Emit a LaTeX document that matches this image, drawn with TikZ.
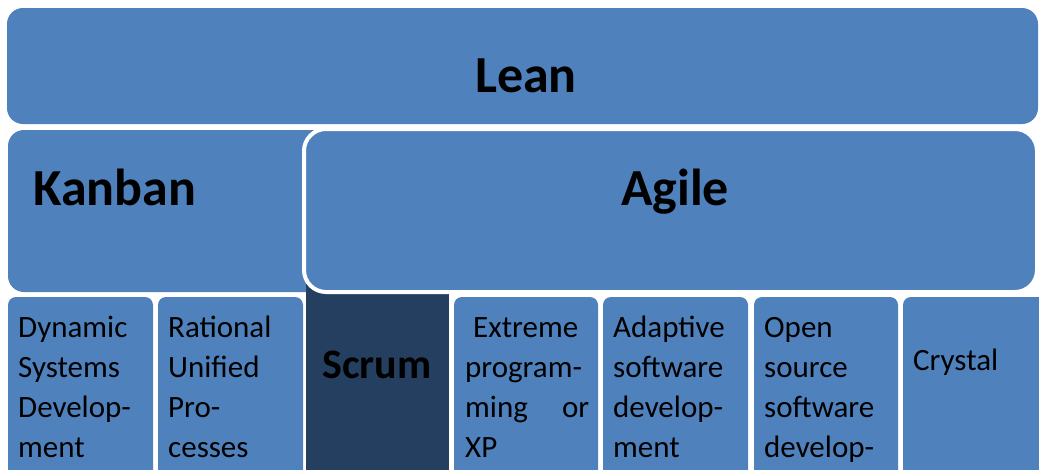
\documentclass[tikz,border=0pt]{standalone}
\usepackage{fontspec}
\setmainfont{Carlito}
\definecolor{boxblue}{HTML}{4F81BD}
\definecolor{boxdark}{HTML}{243F60}
\begin{document}
\begin{tikzpicture}[x=1pt,y=-1pt,
  bigbox/.style={fill=boxblue, rounded corners=16pt},
  smallbox/.style={fill=boxblue, rounded corners=8pt},
  title/.style={inner sep=0pt, font=\fontsize{52}{62}\selectfont\bfseries},
  body/.style={inner sep=0pt, anchor=base west, align=left, font=\fontsize{31}{40}\selectfont}]
\clip (0,0) rectangle (1039,469);
\fill[white] (0,0) rectangle (1039,469);
% top
\fill[bigbox] (7,8) rectangle (1038,124);
\fill[bigbox] (8,130) rectangle (330,292);
% scrum behind agile
\fill[boxdark] (306,270) rectangle (449,480);
% agile with white rim
\filldraw[fill=boxblue, draw=white, line width=4pt, rounded corners=22pt] (304,129) rectangle (1037,292);
% bottom boxes
\fill[smallbox] (8,297) rectangle (153,490);
\fill[smallbox] (158,297) rectangle (303,490);
\fill[smallbox] (454,297) rectangle (598,490);
\fill[smallbox] (603,297) rectangle (748,490);
\fill[smallbox] (754,297) rectangle (898,490);
\fill[smallbox] (903,297) rectangle (1060,490);
% texts
\node[title, anchor=base] (lean) at (526,92) {Lean};
\node[title, anchor=base west] (kanban) at (33,205) {Kanban};
\node[title, anchor=base] (agile) at (675,205) {Agile};
\node[body] (dsd) at (18,457) {Dynamic\\Systems\\Develop-\\ment};
\node[body] (rup) at (168,457) {Rational\\Unified\\Pro-\\cesses};
\node[inner sep=0pt, anchor=base west, font=\fontsize{42}{50}\selectfont\bfseries] (scrum) at (322,378) {Scrum};
\node[body] (xp) at (465,457) {\hbox to 124pt{\hspace{8pt}Extreme\hfill}\\program-\\\hbox to 124pt{ming\hfill or}\\XP};
\node[body] (asd) at (613,457) {Adaptive\\software\\develop-\\ment};
\node[body] (oss) at (764,457) {Open\\source\\software\\develop-};
\node[body] (crystal) at (913,370) {Crystal};
\end{tikzpicture}
\end{document}
